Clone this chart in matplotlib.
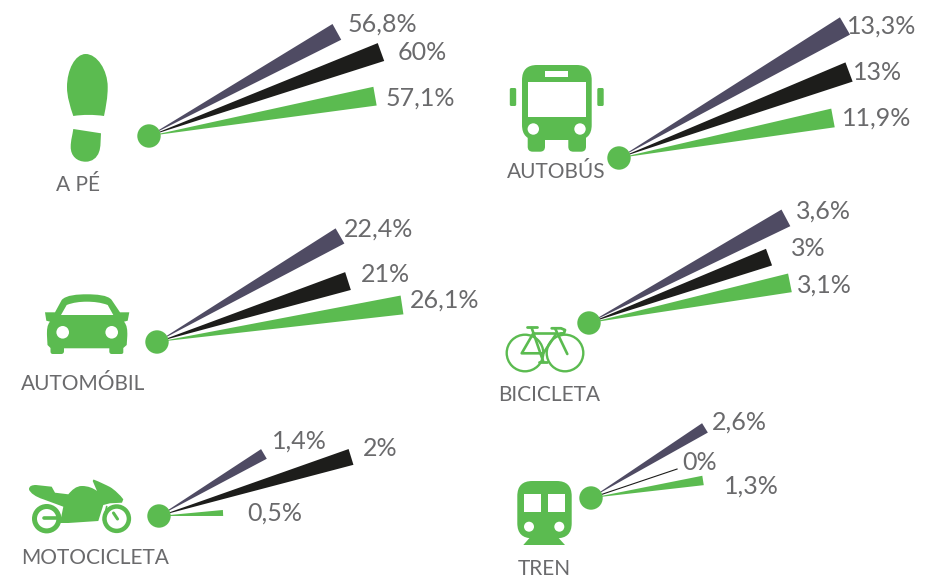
import numpy as np
import matplotlib
matplotlib.use("Agg")
import matplotlib.pyplot as plt
from matplotlib.patches import Circle, PathPatch, Polygon, FancyBboxPatch, Rectangle
from matplotlib.path import Path

# ---- data ----
modes = ["A PÉ", "AUTOBÚS", "AUTOMÓBIL", "BICICLETA", "MOTOCICLETA", "TREN"]
series_a = [56.8, 13.3, 22.4, 3.6, 1.4, 2.6]   # grey
series_b = [60, 13, 21, 3, 2, 0]               # black
series_c = [57.1, 11.9, 26.1, 3.1, 0.5, 1.3]   # green

# ---- layout (pixels) ----
hubs = [(149, 136), (619, 158), (157, 342), (589, 323), (159, 516), (591, 498)]
angles = [(29.0, 19.9, 10.0), (30.3, 20.5, 10.6), (30.1, 17.7, 8.6),
          (28.1, 20.1, 11.3), (30.6, 17.1, 2.7), (31.6, 18.6, 8.9)]
reach = [(214.8, 246.7, 229.5), (261.7, 245.6, 217.7), (211.5, 200.5, 247.8),
         (223.2, 191.7, 204.9), (121.9, 200.9, 64.1), (133.8, 90.8, 113.4)]
widths = [(18, 19, 19), (20, 20.5, 19), (17.5, 18.7, 19),
          (18.8, 17.7, 19), (11.2, 16.5, 6), (11, 1, 9.5)]
value_pos = [((382, 24), (422, 53), (420, 98)), ((882, 26), (878, 73), (877, 118)),
             ((379, 229), (385, 275), (445, 300)), ((823, 211), (808, 248), (824, 285)),
             ((299, 441), (380, 449), (275, 513)), ((739, 422), (700, 463), (751, 486))]
name_pos = [(78, 185), (556, 172), (83, 384), (549, 395), (95, 558), (544, 569)]

GREEN, GREY, BLACK, TEXT = "#5BBB50", "#4F4B63", "#1D1D1B", "#6A6A6C"
colors = [GREY, BLACK, GREEN]
FONT = "Lato"

fig = plt.figure(figsize=(9.33, 5.79), dpi=100)
ax = fig.add_axes([0, 0, 1, 1])
ax.set_xlim(0, 933)
ax.set_ylim(579, 0)
ax.axis("off")


def fmt(v):
    return f"{v:g}".replace(".", ",") + "%"


def wedge(hub, ang, length, width, color, value):
    t = np.radians(ang)
    d = np.array([np.cos(t), -np.sin(t)])
    n = np.array([d[1], -d[0]])
    h = np.array(hub, float)
    end = h + d * length
    if value == 0:
        ax.plot([h[0], end[0]], [h[1], end[1]], color=BLACK, lw=0.8, zorder=2)
        return
    ax.add_patch(Polygon([h, end + n * width / 2, end - n * width / 2], closed=True,
                         fc=color, ec="none", zorder=2))


def blob(cmds, color=GREEN, z=3):
    verts, codes = [], []
    for code, pts in cmds:
        for p in pts:
            verts.append(p)
            codes.append(code)
    ax.add_patch(PathPatch(Path(verts, codes), fc=color, ec="none", zorder=z))


M, L, C = Path.MOVETO, Path.LINETO, Path.CURVE4


def rrect(x0, y0, x1, y1, r, color=GREEN, z=3):
    ax.add_patch(FancyBboxPatch((x0 + r, y0 + r), x1 - x0 - 2 * r, y1 - y0 - 2 * r,
                                boxstyle=f"round,pad={r},rounding_size={r}",
                                fc=color, ec="none", zorder=z))


def circle(x, y, r, color="white", z=4):
    ax.add_patch(Circle((x, y), r, fc=color, ec="none", zorder=z))


def line(pts, lw=1.6, color=GREEN, z=3):
    xs, ys = zip(*pts)
    ax.plot(xs, ys, color=color, lw=lw, solid_capstyle="round", solid_joinstyle="round", zorder=z)


def shoe():
    blob([(M, [(85.7, 54)]),
          (C, [(97, 54), (107.7, 70), (107.7, 87)]),
          (C, [(107.7, 98), (106, 106), (104, 116)]),
          (C, [(94, 114.5), (83, 114.5), (73.3, 116)]),
          (C, [(70, 106), (67, 97), (67, 87)]),
          (C, [(67, 70), (75, 54), (85.7, 54)])])
    blob([(M, [(73.3, 129)]), (L, [(101, 133.3)]),
          (C, [(100.5, 140), (101, 147), (99, 152)]),
          (C, [(97, 158), (92, 161.7), (85.7, 161.7)]),
          (C, [(77, 161.7), (70.7, 156), (70.7, 147)]),
          (C, [(70.7, 140), (72.5, 135), (73.3, 129)])])


def bus():
    rrect(522, 65, 591.7, 140, 15)
    rrect(527.7, 132, 545, 151.7, 5)
    rrect(568.3, 132, 586, 151.7, 5)
    rrect(509.8, 88, 516.2, 106, 1.5)
    rrect(597.3, 88, 603.7, 106, 1.5)
    ax.add_patch(Rectangle((527.7, 82.3), 58.3, 34.4, fc="white", ec="none", zorder=4))
    ax.add_patch(Rectangle((545, 71), 23.3, 5.7, fc="white", ec="none", zorder=4))
    circle(533.3, 129, 5.7)
    circle(580, 129, 5.7)


def car():
    blob([(M, [(45, 312.3)]), (L, [(55, 312.3), (61.7, 300)]),
          (C, [(66, 295), (78, 294.3), (86.7, 294.3)]),
          (C, [(96, 294.3), (108, 295), (111.7, 300)]),
          (L, [(120, 312.3), (129.3, 312.3), (127.7, 320.7), (124, 321.7)]),
          (C, [(127, 325), (127.5, 330), (127.3, 336)]),
          (L, [(126.7, 345), (123.3, 348)]),
          (L, [(123.3, 352)]),
          (C, [(123.3, 354), (122, 354), (120, 354)]),
          (L, [(112, 354)]),
          (C, [(110, 354), (109.3, 353), (109.3, 351)]),
          (L, [(109.3, 348.3), (64, 348.3), (64, 351)]),
          (C, [(64, 353), (63, 354), (61, 354)]),
          (L, [(53, 354)]),
          (C, [(51, 354), (50.5, 353), (50.5, 351)]),
          (L, [(50.5, 348), (47.5, 345), (47, 336)]),
          (C, [(46.8, 330), (47, 325), (50, 321.7)]),
          (L, [(46.3, 320.7), (45, 312.3)])])
    blob([(M, [(61, 315)]), (L, [(66.7, 305)]),
          (C, [(73, 302.5), (80, 301.7), (86.7, 301.7)]),
          (C, [(94, 301.7), (101, 302.5), (107.7, 305)]),
          (L, [(113.3, 315), (61, 315)])], color="white", z=4)
    circle(62.7, 332.3, 6.3)
    circle(111.7, 332.3, 6.3)


def bike():
    for cx in (525, 565):
        ax.add_patch(Circle((cx, 353), 18.3, fc="none", ec=GREEN, lw=1.7, zorder=3))
    line([(526.7, 327.3), (536.7, 327.3)], 2.0)
    line([(531.7, 328), (543.3, 361.7)], 1.9)
    line([(533.3, 333.3), (556.7, 333.3)], 1.9)
    line([(555.5, 335), (543.3, 353.3), (521.7, 353.3), (533.3, 333.3)], 1.9)
    line([(555, 328.3), (567.3, 354)], 1.9)
    line([(551.7, 328.3), (561, 328.3), (565, 330), (564, 333.3), (560, 333.5)], 2.0)
    line([(539.3, 361.7), (546.7, 361.7)], 2.0)


def moto():
    for (cx, r, lw) in ((46.7, 12.2, 3.6), (116.7, 12.2, 3.2)):
        ax.add_patch(Circle((cx, 518.7), r, fc="none", ec=GREEN, lw=lw, zorder=3))
    line([(43.5, 518.4), (60, 518.4)], 2.6)
    line([(113.5, 513), (117.5, 519)], 2.2)
    blob([(M, [(29, 489.3)]),
          (C, [(29, 486), (32, 485), (36, 485)]),
          (L, [(51.7, 486.7), (55, 492.7), (68.3, 494.3)]),
          (C, [(72, 490), (76, 486), (82, 486)]),
          (C, [(88, 486), (93, 488), (97, 491)]),
          (L, [(92.7, 481), (93.5, 479.5)]),
          (C, [(100, 482), (106, 485), (110, 487)]),
          (C, [(115, 490), (120, 495), (123.3, 499.3)]),
          (L, [(122, 502.7), (110, 503.3), (103.3, 505), (98.3, 521)]),
          (L, [(68.3, 523), (60, 523), (63.3, 506.7), (43.3, 499.3)]),
          (C, [(36, 497), (30, 493), (29, 489.3)])])
    line([(106.7, 506.5), (103.5, 520)], 1.2, z=4)


def train():
    rrect(517.3, 481, 571.7, 538.3, 15)
    blob([(M, [(533, 534)]), (L, [(555, 534), (565, 545), (523.3, 545), (533, 534)])])
    ax.add_patch(Rectangle((523.7, 494.3), 17.3, 17.4, fc="white", ec="none", zorder=4))
    ax.add_patch(Rectangle((547.7, 494.3), 17.3, 17.4, fc="white", ec="none", zorder=4))
    circle(529, 526.7, 5)
    circle(559.3, 526.7, 5)


for i, name in enumerate(modes):
    vals = (series_a[i], series_b[i], series_c[i])
    for j, v in enumerate(vals):
        wedge(hubs[i], angles[i][j], reach[i][j], widths[i][j], colors[j], v)
        x, y = value_pos[i][j]
        ax.text(x, y, fmt(v), ha="center", va="center", fontsize=18, color=TEXT, family=FONT)
    ax.add_patch(Circle(hubs[i], 11.7, fc=GREEN, ec="none", zorder=5))
    x, y = name_pos[i]
    ax.text(x, y, name, ha="center", va="center", fontsize=15, color=TEXT, family=FONT)

for draw in (shoe, bus, car, bike, moto, train):
    draw()

fig.savefig("out.png", dpi=100)
